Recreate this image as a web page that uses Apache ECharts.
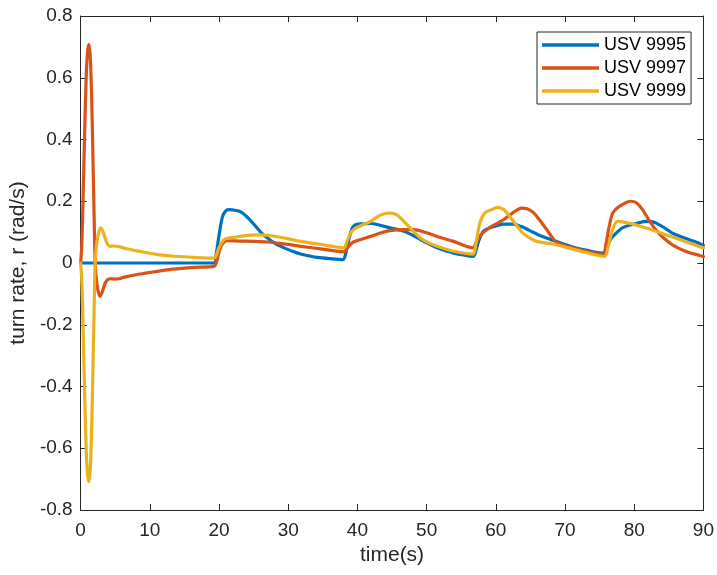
<!DOCTYPE html>
<html>
<head>
<meta charset="utf-8">
<script src="https://cdn.jsdelivr.net/npm/echarts@6/dist/echarts.min.js"></script>
<style>
  html, body { margin: 0; padding: 0; background: #fff; }
  #chart { width: 717px; height: 575px; }
</style>
</head>
<body>
<div id="chart"></div>
<script>
// Turn rate histories of three USVs (time in s, turn rate in rad/s)
const seriesNames = ['USV 9995', 'USV 9997', 'USV 9999'];

const t9995 = [0, 19.3, 19.6, 20.0, 20.5, 21.0, 21.5, 22.5, 23.2, 24.0, 25.1, 26.0, 27.0, 28.2, 29.4, 30.6, 31.8, 33.0, 34.2, 36.0, 37.9,
  38.3, 38.8, 39.3, 39.8, 40.8, 41.9, 43.0, 44.7, 46.7, 48.0, 49.1, 50.3, 51.5, 52.7, 53.9, 55.3, 56.7,
  57.0, 57.5, 58.2, 59.0, 60.0, 61.1, 62.5, 63.7, 64.9, 66.3, 67.8, 68.7, 70.0, 71.1, 73.0, 75.5,
  75.9, 76.4, 76.9, 78.3, 80.0, 81.7, 82.5, 83.1, 84.3, 85.5, 86.7, 87.9, 89.0, 90.0];
const r9995 = [0, 0, 0.03, 0.09, 0.15, 0.170, 0.173, 0.170, 0.165, 0.150, 0.124, 0.100, 0.081, 0.062, 0.049, 0.038, 0.029, 0.023, 0.018, 0.014, 0.011,
  0.03, 0.08, 0.115, 0.125, 0.127, 0.128, 0.124, 0.114, 0.103, 0.090, 0.076, 0.062, 0.049, 0.040, 0.032, 0.026, 0.021,
  0.03, 0.07, 0.103, 0.113, 0.120, 0.126, 0.126, 0.118, 0.105, 0.090, 0.077, 0.070, 0.060, 0.052, 0.042, 0.032,
  0.045, 0.07, 0.086, 0.114, 0.126, 0.135, 0.134, 0.130, 0.115, 0.097, 0.086, 0.076, 0.067, 0.057];

const t9997 = [0, 0.15, 0.3, 0.45, 0.6, 0.8, 1.0, 1.2, 1.4, 1.6, 1.8, 1.95, 2.1, 2.4, 2.8, 3.1, 3.5, 3.9, 4.3, 5.0, 5.5, 6.5, 8.0, 9.4, 11.0, 12.5, 14.2, 16.5, 19.25,
  19.6, 20.0, 20.5, 21.2, 23.0, 25.0, 27.0, 29.4, 31.8, 35.0, 38.0,
  38.5, 39.2, 39.9, 41.0, 42.0, 43.3, 44.7, 46.5, 48.1, 50.0, 51.5, 53.9, 56.7,
  57.2, 57.8, 58.4, 59.5, 61.1, 62.5, 63.7, 64.5, 65.4, 66.3, 67.2, 67.8, 68.7, 70.0, 71.1, 73.0, 75.5,
  75.9, 76.4, 76.9, 77.9, 79.5, 80.3, 81.2, 82.1, 83.1, 84.3, 85.5, 86.7, 87.9, 89.0, 90.0];
const r9997 = [0, 0.05, 0.16, 0.30, 0.44, 0.60, 0.685, 0.708, 0.665, 0.53, 0.32, 0.15, 0.0, -0.075, -0.108, -0.095, -0.068, -0.054, -0.051, -0.052, -0.051, -0.045, -0.038, -0.033, -0.027, -0.022, -0.018, -0.014, -0.011,
  0.0, 0.035, 0.062, 0.072, 0.071, 0.070, 0.068, 0.062, 0.054, 0.045, 0.036,
  0.048, 0.065, 0.072, 0.080, 0.087, 0.097, 0.105, 0.108, 0.108, 0.098, 0.086, 0.070, 0.049,
  0.07, 0.09, 0.103, 0.120, 0.140, 0.163, 0.178, 0.176, 0.164, 0.140, 0.113, 0.094, 0.068, 0.056, 0.049, 0.038, 0.027,
  0.06, 0.12, 0.162, 0.184, 0.200, 0.195, 0.173, 0.140, 0.108, 0.080, 0.059, 0.045, 0.034, 0.027, 0.021];

const t9999 = [0, 0.15, 0.3, 0.45, 0.6, 0.8, 1.0, 1.2, 1.4, 1.6, 1.8, 1.95, 2.1, 2.4, 2.9, 3.3, 3.7, 4.2, 4.8, 5.4, 6.5, 8.0, 9.4, 11.0, 12.5, 14.2, 16.5, 19.25,
  19.6, 20.0, 20.6, 21.2, 23.0, 24.6, 26.0, 27.0, 29.4, 31.8, 35.0, 38.0,
  38.5, 39.2, 40.2, 41.9, 43.3, 44.7, 45.7, 46.7, 48.0, 49.1, 50.3, 51.5, 53.9, 56.7,
  57.1, 57.7, 58.4, 59.3, 60.3, 61.2, 62.0, 63.0, 63.9, 65.0, 65.9, 67.8, 68.7, 71.1, 73.0, 75.7,
  76.2, 76.9, 77.6, 79.8, 81.5, 83.1, 84.8, 86.5, 88.2, 90.0];
const r9999 = [0, -0.05, -0.16, -0.30, -0.44, -0.60, -0.685, -0.708, -0.665, -0.53, -0.32, -0.15, 0.0, 0.075, 0.114, 0.098, 0.070, 0.054, 0.055, 0.054, 0.047, 0.040, 0.034, 0.028, 0.024, 0.021, 0.018, 0.016,
  0.025, 0.05, 0.073, 0.080, 0.086, 0.090, 0.091, 0.090, 0.081, 0.070, 0.059, 0.049,
  0.07, 0.103, 0.118, 0.135, 0.155, 0.162, 0.156, 0.135, 0.105, 0.081, 0.065, 0.054, 0.038, 0.029,
  0.06, 0.13, 0.162, 0.172, 0.180, 0.172, 0.151, 0.122, 0.097, 0.080, 0.070, 0.063, 0.059, 0.045, 0.034, 0.021,
  0.05, 0.11, 0.135, 0.126, 0.115, 0.103, 0.090, 0.076, 0.063, 0.049];

const xTicks = { min: 0, max: 90, interval: 10 };
const yTicks = { min: -0.8, max: 0.8, interval: 0.2 };

const colors = ['#0072BD', '#D95319', '#EDB120'];
const axisColor = '#262626';
const fontFamily = '"Liberation Sans", Arial, Helvetica, sans-serif';

function zip(ts, rs) { return ts.map((t, i) => [t, rs[i]]); }

const chart = echarts.init(document.getElementById('chart'), null, { renderer: 'canvas' });

const baseAxis = {
  axisLine: { show: true, onZero: false, lineStyle: { color: axisColor, width: 1 } },
  axisTick: { show: true, inside: true, length: 6, lineStyle: { color: axisColor, width: 1 } },
  splitLine: { show: false }
};

chart.setOption({
  animation: false,
  backgroundColor: '#ffffff',
  grid: { left: 79, right: 13, top: 16, bottom: 65, containLabel: false },
  legend: {
    data: seriesNames,
    orient: 'vertical',
    left: 537,
    top: 32,
    icon: 'rect',
    itemWidth: 57,
    itemHeight: 3.5,
    itemGap: 5,
    padding: [4, 5, 4, 5],
    backgroundColor: '#ffffff',
    borderColor: axisColor,
    borderWidth: 1,
    textStyle: { fontFamily: fontFamily, fontSize: 18, color: '#000000', lineHeight: 18 }
  },
  xAxis: [
    Object.assign({}, baseAxis, {
      type: 'value', position: 'bottom', min: xTicks.min, max: xTicks.max, interval: xTicks.interval,
      name: 'time(s)', nameLocation: 'middle', nameGap: 32,
      nameTextStyle: { fontFamily: fontFamily, fontSize: 21, color: axisColor },
      axisLabel: { margin: 11, fontFamily: fontFamily, fontSize: 19, color: axisColor }
    }),
    Object.assign({}, baseAxis, {
      type: 'value', position: 'top', min: xTicks.min, max: xTicks.max, interval: xTicks.interval,
      axisLabel: { show: false }
    })
  ],
  yAxis: [
    Object.assign({}, baseAxis, {
      type: 'value', position: 'left', min: yTicks.min, max: yTicks.max, interval: yTicks.interval,
      name: 'turn rate, r (rad/s)', nameLocation: 'middle', nameGap: 46,
      nameTextStyle: { fontFamily: fontFamily, fontSize: 21, color: axisColor },
      axisLabel: { margin: 8, fontFamily: fontFamily, fontSize: 19, color: axisColor,
        formatter: v => String(Math.round(v * 10) / 10) }
    }),
    Object.assign({}, baseAxis, {
      type: 'value', position: 'right', min: yTicks.min, max: yTicks.max, interval: yTicks.interval,
      axisLabel: { show: false }
    })
  ],
  series: [
    [t9995, r9995], [t9997, r9997], [t9999, r9999]
  ].map((pair, i) => ({
    name: seriesNames[i],
    type: 'line',
    xAxisIndex: 0,
    yAxisIndex: 0,
    data: zip(pair[0], pair[1]),
    showSymbol: false,
    symbol: 'none',
    smooth: 0.3,
    clip: true,
    lineStyle: { color: colors[i], width: 3.2, cap: 'round', join: 'round' },
    itemStyle: { color: colors[i] },
    z: 2 + i
  }))
});
</script>
</body>
</html>
